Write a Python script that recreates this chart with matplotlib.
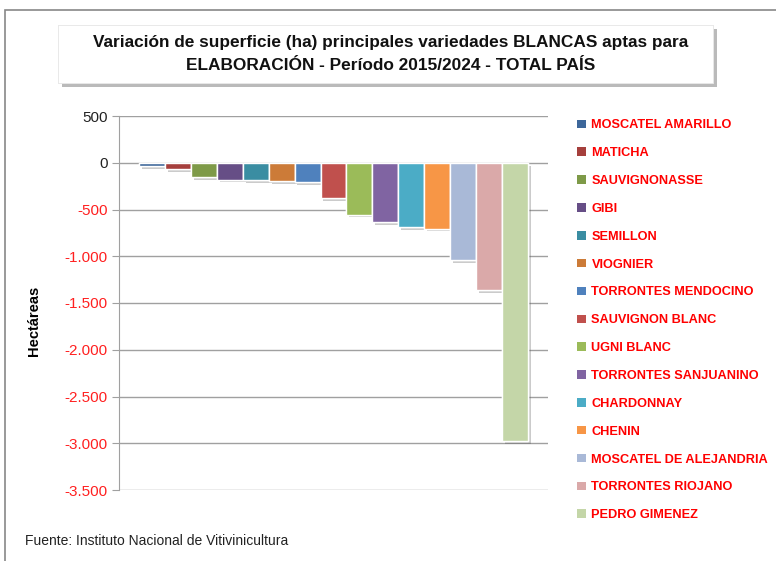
import matplotlib
matplotlib.use('Agg')
import matplotlib.pyplot as plt
import matplotlib.patheffects as pe
from matplotlib.patches import Rectangle
from matplotlib.ticker import FuncFormatter

variedades = ['MOSCATEL AMARILLO', 'MATICHA', 'SAUVIGNONASSE', 'GIBI', 'SEMILLON',
              'VIOGNIER', 'TORRONTES MENDOCINO', 'SAUVIGNON BLANC', 'UGNI BLANC',
              'TORRONTES SANJUANINO', 'CHARDONNAY', 'CHENIN', 'MOSCATEL DE ALEJANDRIA',
              'TORRONTES RIOJANO', 'PEDRO GIMENEZ']
variacion = [-35, -65, -150, -180, -185, -195, -205, -380, -555, -635, -685, -705,
             -1040, -1360, -2975]
colores = ['#3D679A', '#A53F3C', '#7E9A48', '#664E86', '#3A8DA2', '#CC7B38',
           '#4F81BD', '#C0504D', '#9BBB59', '#8064A2', '#4BACC6', '#F79646',
           '#A9B9D7', '#DAA9A9', '#C4D6A8']
yticks = list(range(-3500, 501, 500))

plt.rcParams['font.family'] = ['Liberation Sans', 'DejaVu Sans']

fig = plt.figure(figsize=(7.76, 5.61), dpi=100)
fig.add_artist(Rectangle((5/776, -0.1), 1.2, 1 - 10/561 + 0.1, transform=fig.transFigure,
                         fill=False, ec='#888888', lw=1.2))

ax = fig.add_axes([119/776, 1 - 490/561, 429/776, 374/561])
x = list(range(len(variedades)))
barras = ax.bar(x, variacion, width=1.0, color=colores, edgecolor='white', linewidth=1,
                zorder=3)
sombra = [pe.withSimplePatchShadow(offset=(2, -2), shadow_rgbFace='#555555', alpha=0.3),
          pe.Normal()]
for b, nombre in zip(barras, variedades):
    b.set_label(nombre)
    b.set_path_effects(sombra)

ax.set_xlim(-0.5 - 0.78, len(variedades) - 0.5 + 0.78)
ax.set_ylim(-3500, 500)
ax.set_yticks(yticks)
ax.yaxis.set_major_formatter(FuncFormatter(lambda v, p: f'{int(v):,}'.replace(',', '.')))
ax.set_xticks([])
ax.grid(axis='y', color='#A0A0A0', lw=1, zorder=0)
for s in ['top', 'right', 'bottom']:
    ax.spines[s].set_visible(False)
ax.spines['left'].set_color('#A0A0A0')
ax.tick_params(axis='y', length=5, color='#A0A0A0', labelsize=11, pad=3)
for v, lbl in zip(yticks, ax.get_yticklabels()):
    lbl.set_color('#FF2020' if v < 0 else '#222222')
ax.set_ylabel('Hectáreas', fontsize=10.5, fontweight='bold')
ax.yaxis.set_label_coords((41 - 119) / 429, (490 - 321) / 374)

leg = ax.legend(loc='upper left', bbox_to_anchor=(571/776, 1 - 113/561),
                bbox_transform=fig.transFigure, frameon=False,
                prop={'weight': 'bold', 'size': 9.2}, labelcolor='#FF0000',
                handlelength=0.65, handleheight=0.65, handletextpad=0.45,
                labelspacing=1.24, borderpad=0)
for h in leg.legend_handles:
    h.set_path_effects([])
    h.set_edgecolor('none')

# caja del titulo con sombra
caja = Rectangle((58/776, 1 - 83/561), 655/776, 58/561, transform=fig.transFigure,
                 fc='white', ec='#E4E4E4', lw=0.5)
caja.set_path_effects([pe.withSimplePatchShadow(offset=(3, -3), shadow_rgbFace='#777777', alpha=0.5),
                       pe.Normal()])
fig.add_artist(caja)
fig.text(391/776, 1 - 54/561,
         'Variación de superficie (ha) principales variedades BLANCAS aptas para\n'
         'ELABORACIÓN - Período 2015/2024 - TOTAL PAÍS',
         ha='center', va='center', fontsize=12.4, fontweight='bold', linespacing=1.6,
         color='#111111')

fig.text(25/776, 1 - 541/561, 'Fuente: Instituto Nacional de Vitivinicultura',
         ha='left', va='center', fontsize=10, color='#222222')

fig.savefig('out.png', dpi=100)
